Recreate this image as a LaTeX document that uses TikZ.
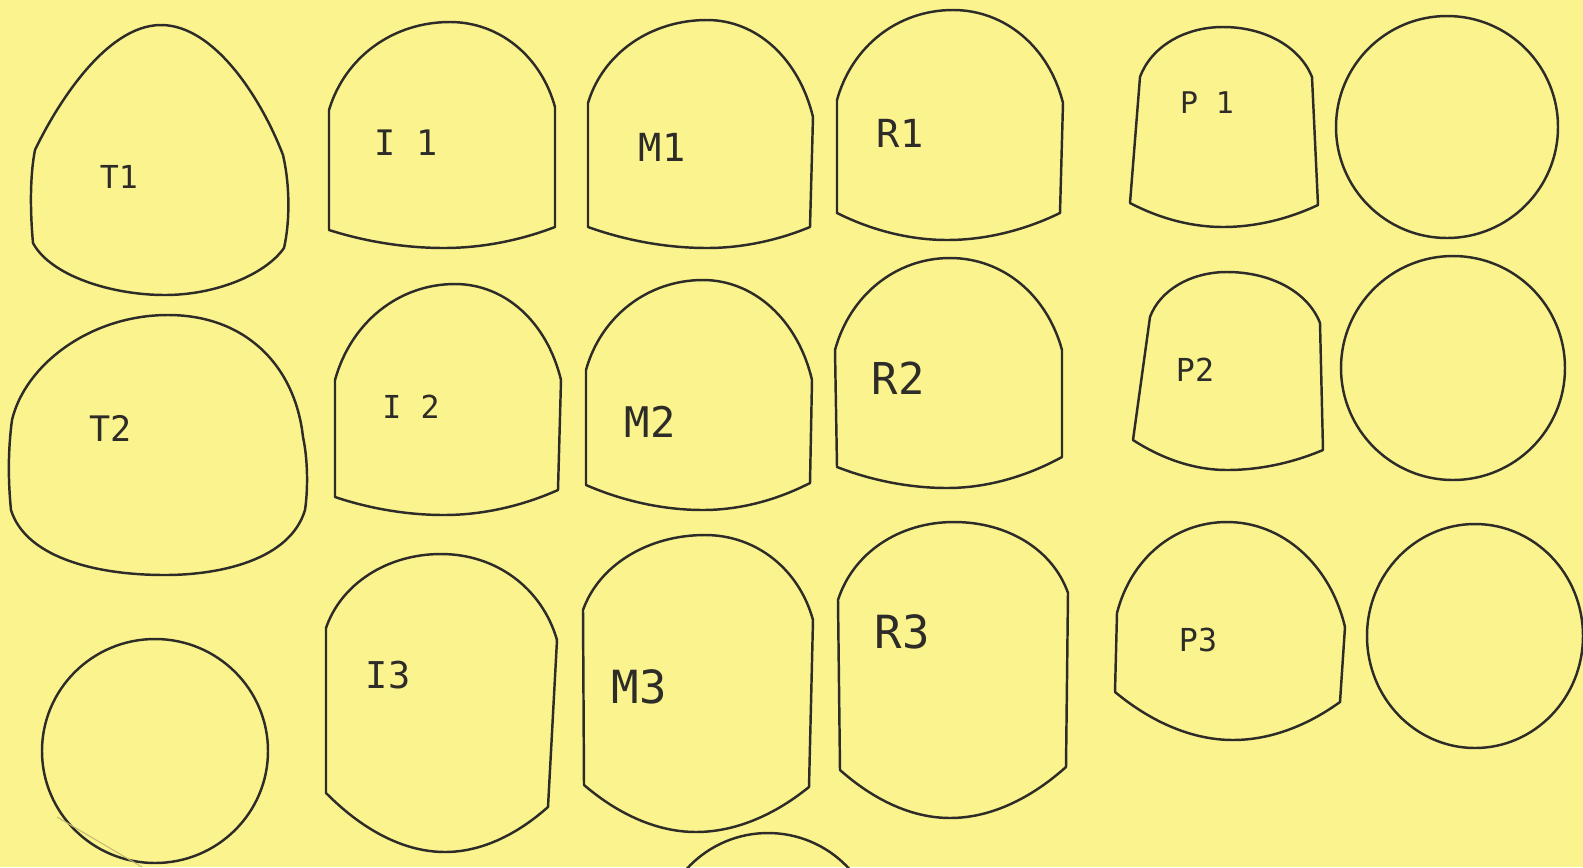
\documentclass[tikz,border=0pt]{standalone}
\usepackage{fontspec}
\newfontfamily\handfont{DejaVu Sans Mono}
\definecolor{paper}{RGB}{251,244,142}
\definecolor{ink}{RGB}{45,44,40}
\definecolor{streak}{RGB}{200,185,110}
\begin{document}
\begin{tikzpicture}[x=0.02cm,y=-0.02cm,
  outline/.style={draw=ink,line width=1.4pt,line join=round},
  lbl/.style={text=ink,font=\handfont,inner sep=0pt}]
\fill[paper] (0,0) rectangle (1583,867);
\useasboundingbox (0,0) rectangle (1583,867);

% ---- row 1 ----
\draw[outline] (33,243) .. controls (30,210) and (30,175) .. (35,150)
  .. controls (55,108) and (105,25) .. (161,25)
  .. controls (215,25) and (262,100) .. (283,155)
  .. controls (290,185) and (290,222) .. (284,248)
  .. controls (265,275) and (215,295) .. (165,295)
  .. controls (110,295) and (50,275) .. (33,243) -- cycle;
\node[lbl,font=\handfont\fontsize{18}{18}\selectfont] (t1) at (119,177) {T1};

\draw[outline] (329,230) -- (329,110) .. controls (345,57) and (393,22) .. (450,22)
  .. controls (499,22) and (541,56) .. (555,107) -- (555,227)
  parabola bend (444,248) (329,230) -- cycle;
\node[lbl,font=\handfont\fontsize{20}{20}\selectfont] (i1) at (406,143) {I 1};

\draw[outline] (588,227) -- (588,103) .. controls (603,53) and (651,20) .. (707,20)
  .. controls (757,20) and (799,59) .. (813,117) -- (810,227)
  parabola bend (707,248) (588,227) -- cycle;
\node[lbl,font=\handfont\fontsize{22}{22}\selectfont] (m1) at (662,147) {M1};

\draw[outline] (837,213) -- (837,100) .. controls (852,46) and (898,10) .. (953,10)
  .. controls (1005,10) and (1049,47) .. (1063,103) -- (1060,213)
  parabola bend (947,240) (837,213) -- cycle;
\node[lbl,font=\handfont\fontsize{22}{22}\selectfont] (r1) at (900,133) {R1};

\draw[outline] (1130,203) -- (1140,77) .. controls (1151,47) and (1184,27) .. (1223,27)
  .. controls (1265,27) and (1300,47) .. (1312,77) -- (1318,205)
  parabola bend (1223,227) (1130,203) -- cycle;
\node[lbl,font=\handfont\fontsize{17}{17}\selectfont] (p1) at (1207,103) {P 1};

\draw[outline] (1447,127) ellipse [x radius=111, y radius=111];

% ---- row 2 ----
\draw[outline] (11,510) .. controls (8,480) and (8,450) .. (12,420)
  .. controls (25,365) and (90,315) .. (168,315)
  .. controls (245,315) and (295,365) .. (303,437)
  .. controls (308,460) and (308,490) .. (305,510)
  .. controls (290,560) and (220,575) .. (165,575)
  .. controls (90,575) and (25,555) .. (11,510) -- cycle;
\node[lbl,font=\handfont\fontsize{20}{20}\selectfont] (t2) at (111,428) {T2};

\draw[outline] (335,497) -- (335,380) .. controls (351,322) and (399,284) .. (455,284)
  .. controls (505,284) and (547,322) .. (561,380) -- (558,490)
  parabola bend (444,515) (335,497) -- cycle;
\node[lbl,font=\handfont\fontsize{18}{18}\selectfont] (i2) at (411,407) {I 2};

\draw[outline] (586,485) -- (586,370) .. controls (601,316) and (648,280) .. (703,280)
  .. controls (754,280) and (798,320) .. (812,380) -- (810,483)
  parabola bend (703,510) (586,485) -- cycle;
\node[lbl,font=\handfont\fontsize{24}{24}\selectfont] (m2) at (650,422) {M2};

\draw[outline] (837,467) -- (835,350) .. controls (850,295) and (896,258) .. (950,258)
  .. controls (1003,258) and (1047,295) .. (1062,350) -- (1062,457)
  parabola bend (947,488) (837,467) -- cycle;
\node[lbl,font=\handfont\fontsize{25}{25}\selectfont] (r2) at (898,378) {R2};

\draw[outline] (1133,440) -- (1150,317) .. controls (1160,290) and (1191,272) .. (1227,272)
  .. controls (1271,272) and (1308,292) .. (1320,323) -- (1323,450)
  parabola bend (1227,470) (1133,440) -- cycle;
\node[lbl,font=\handfont\fontsize{18}{18}\selectfont] (p2) at (1195,370) {P2};

\draw[outline] (1453,368) ellipse [x radius=112, y radius=112];

% ---- row 3 ----
\draw[outline] (155,751) ellipse [x radius=113, y radius=112];
\draw[streak,line width=0.6pt] (57,817) -- (142,867);

\draw[outline] (326,793) -- (326,628) .. controls (341,584) and (387,554) .. (441,554)
  .. controls (496,554) and (542,588) .. (557,640) -- (548,807)
  parabola bend (445,852) (326,793) -- cycle;
\node[lbl,font=\handfont\fontsize{21}{21}\selectfont] (i3) at (388,675) {I3};

\draw[outline] (584,785) -- (583,610) .. controls (599,565) and (648,535) .. (705,535)
  .. controls (756,535) and (799,569) .. (813,620) -- (809,787)
  parabola bend (696,832) (584,785) -- cycle;
\node[lbl,font=\handfont\fontsize{26}{26}\selectfont] (m3) at (639,687) {M3};

\draw[outline] (840,770) -- (838,600) .. controls (853,553) and (899,522) .. (954,522)
  .. controls (1008,522) and (1053,550) .. (1068,593) -- (1066,767)
  parabola bend (950,818) (840,770) -- cycle;
\node[lbl,font=\handfont\fontsize{26}{26}\selectfont] (r3) at (902,632) {R3};

\draw[outline] (1115,692) -- (1117,613) .. controls (1131,558) and (1175,522) .. (1227,522)
  .. controls (1282,522) and (1330,564) .. (1345,627) -- (1340,702)
  parabola bend (1233,740) (1115,692) -- cycle;
\node[lbl,font=\handfont\fontsize{18}{18}\selectfont] (p3) at (1198,640) {P3};

\draw[outline] (1475,636) ellipse [x radius=108, y radius=112];

% ---- partial circle at bottom edge ----
\begin{scope}
  \clip (0,0) rectangle (1583,867);
  \draw[outline] (768,943) circle [radius=110];
\end{scope}
\end{tikzpicture}
\end{document}
